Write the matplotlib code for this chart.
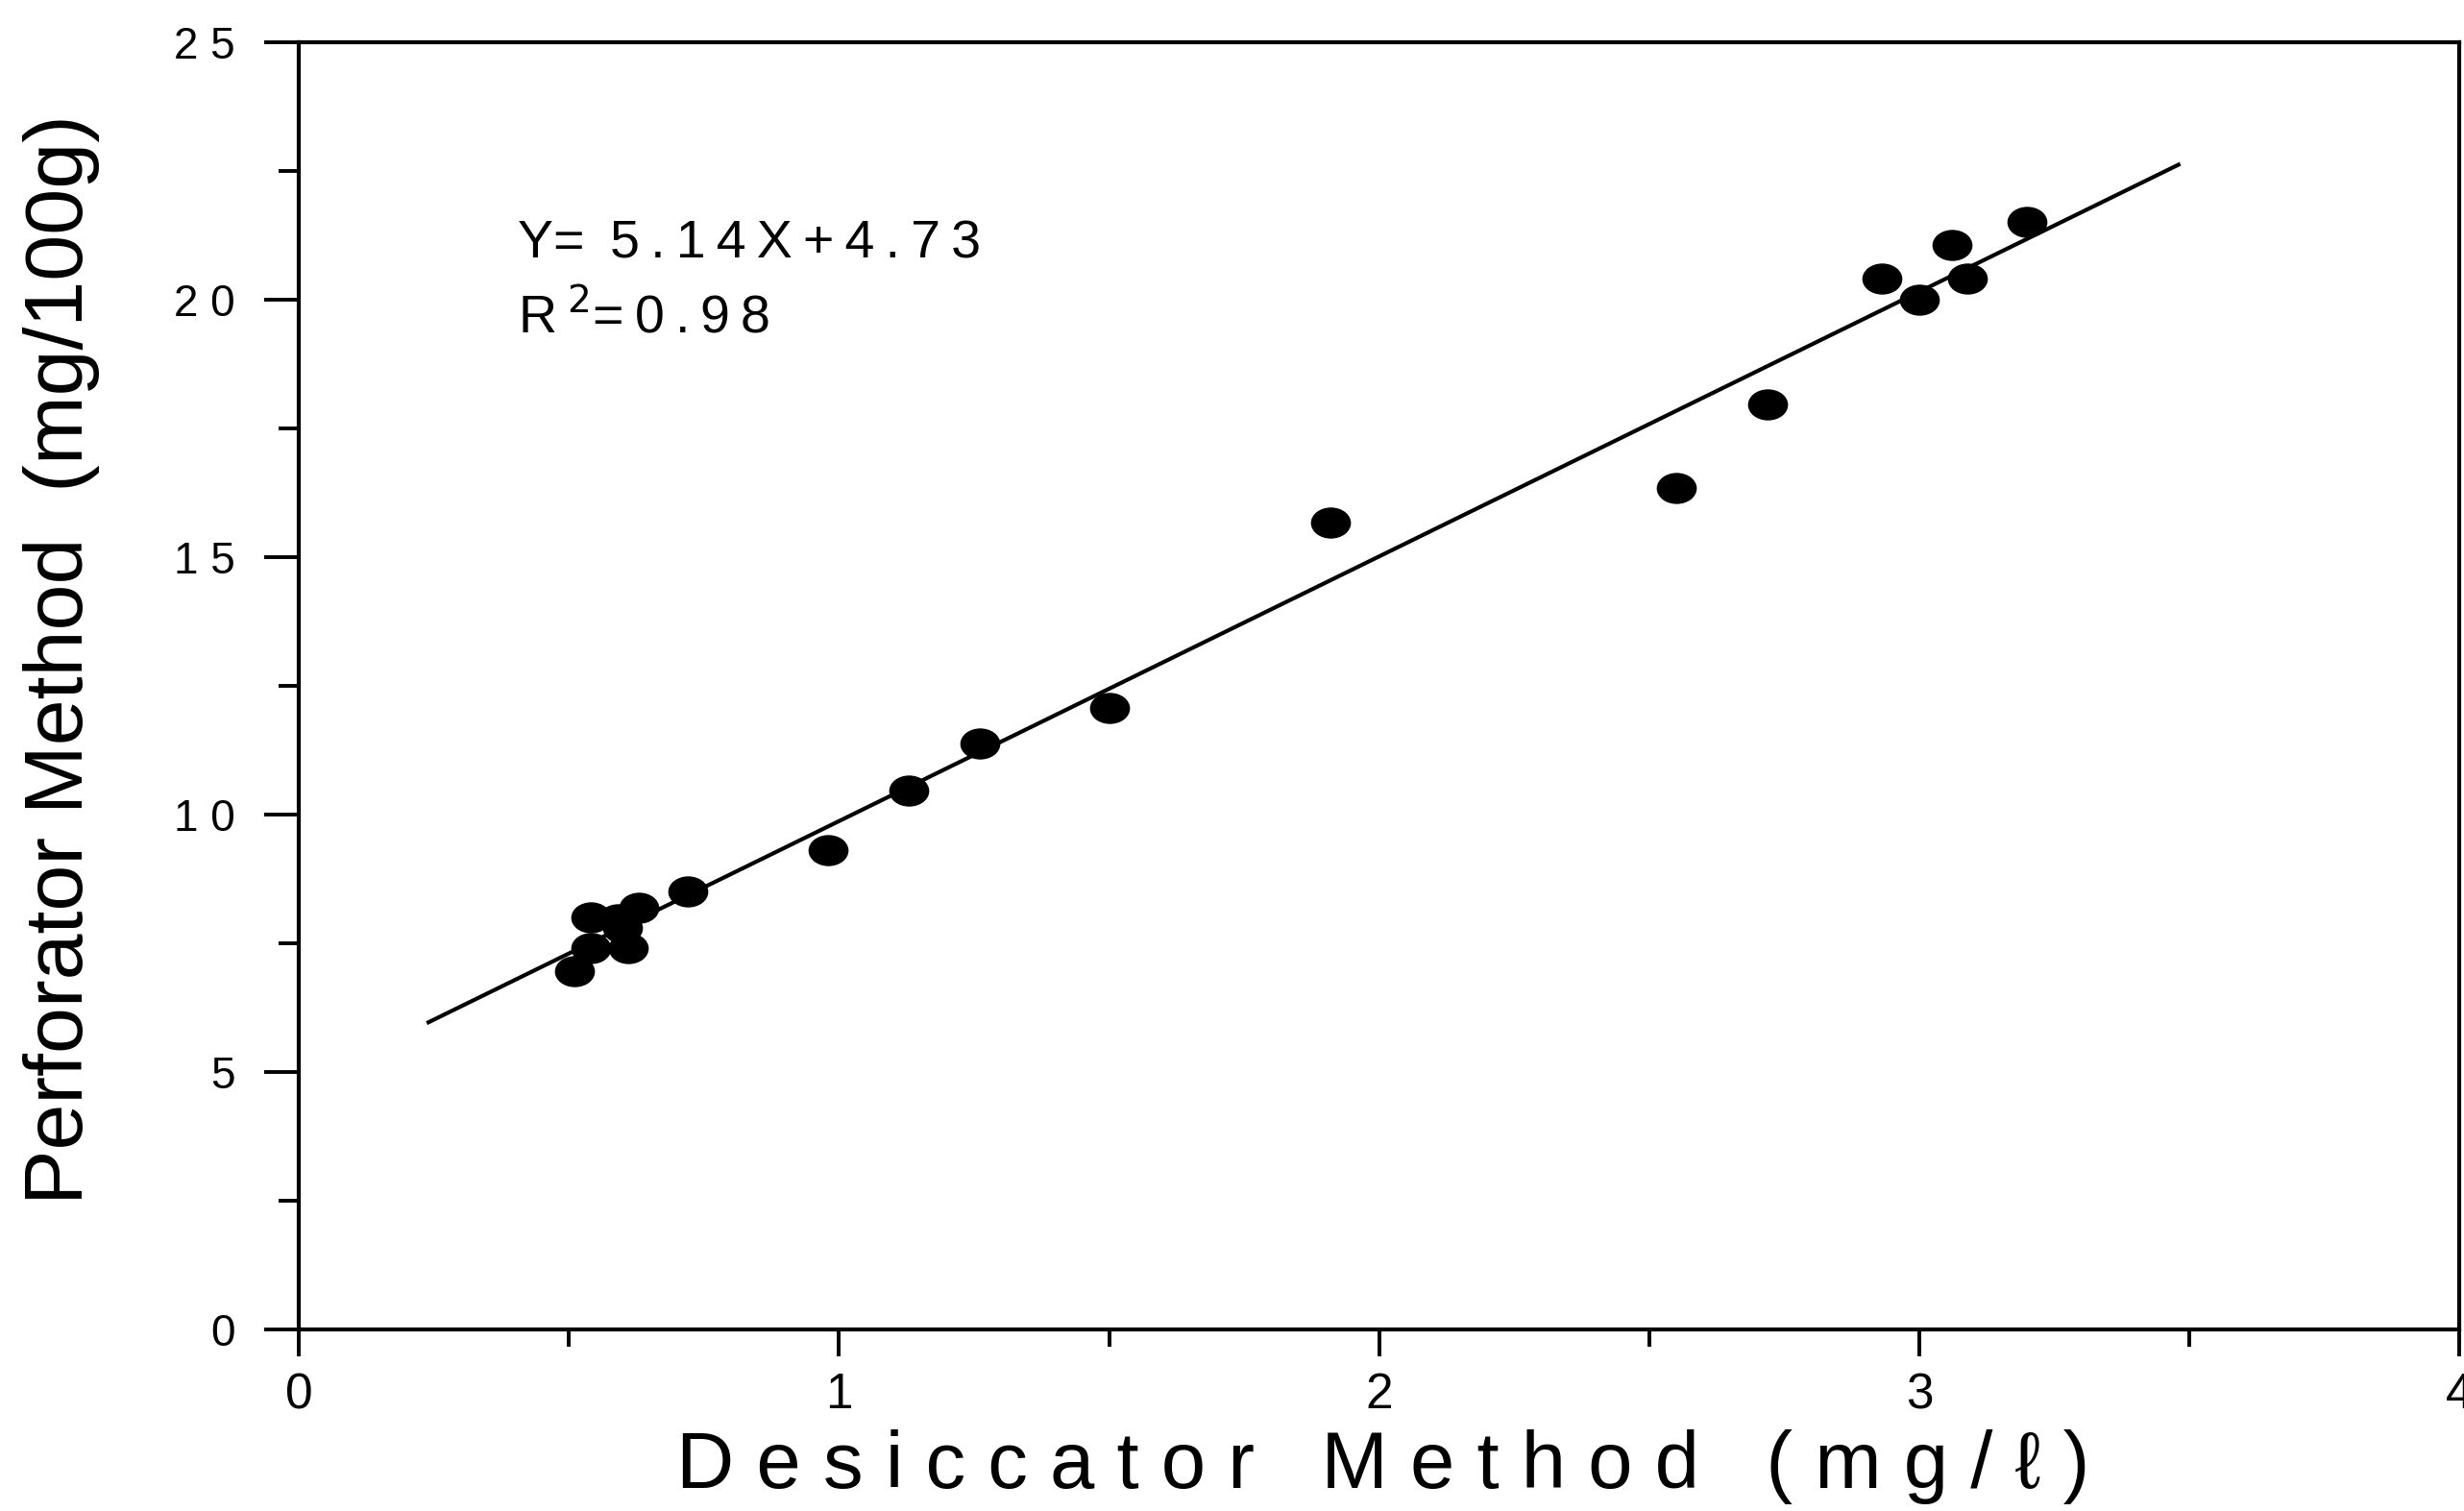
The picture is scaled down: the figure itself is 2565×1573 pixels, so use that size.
import matplotlib
matplotlib.use('Agg')
import matplotlib.pyplot as plt
import numpy as np
from matplotlib import font_manager
from matplotlib.path import Path
from matplotlib.transforms import Affine2D
from matplotlib.ticker import MultipleLocator, FuncFormatter

# data
desiccator = [0.51, 0.54, 0.54, 0.59, 0.60, 0.61, 0.63, 0.72, 0.98, 1.13, 1.26,
              1.50, 1.91, 2.55, 2.72, 2.93, 3.00, 3.06, 3.09, 3.20]
perforator = [6.95, 7.40, 8.00, 7.97, 7.80, 7.40, 8.18, 8.51, 9.31, 10.47, 11.37,
              12.07, 15.67, 16.34, 17.97, 20.40, 20.00, 21.05, 20.40, 21.50]
slope = 5.14
intercept = 4.73
r_squared = 0.98
fit_range = [0.24, 3.48]

names = {f.name for f in font_manager.fontManager.ttflist}
main_font = ['Liberation Sans', 'DejaVu Sans']
narrow_font = ['Liberation Sans Narrow', 'DejaVu Sans'] if 'Liberation Sans Narrow' in names else main_font

plt.rcParams['font.family'] = main_font

fig = plt.figure(figsize=(25.65, 15.73), dpi=100)
ax = fig.add_axes([0.1213, 0.1202, 0.8768, 0.852])

# slightly wide ellipse marker
ell = Path.unit_circle().transformed(Affine2D().scale(1.3, 1.0))
ax.plot(desiccator, perforator, linestyle='none', marker=ell, markersize=29,
        color='black', zorder=3)

xf = np.array(fit_range)
ax.plot(xf, slope * xf + intercept, color='black', linewidth=3.0, zorder=2)

ax.set_xlim(0, 4)
ax.set_ylim(0, 25)

for sp in ax.spines.values():
    sp.set_linewidth(3.0)

ax.xaxis.set_major_locator(MultipleLocator(1))
ax.xaxis.set_minor_locator(MultipleLocator(0.5))
ax.yaxis.set_major_locator(MultipleLocator(5))
ax.yaxis.set_minor_locator(MultipleLocator(2.5))

ax.yaxis.set_major_formatter(FuncFormatter(lambda v, p: ' '.join(str(int(round(v))))))
ax.xaxis.set_major_formatter(FuncFormatter(lambda v, p: str(int(round(v)))))

ax.tick_params(axis='y', which='major', direction='out', length=26, width=2.8, pad=22, labelsize=33)
ax.tick_params(axis='y', which='minor', direction='out', length=15, width=2.8)
ax.tick_params(axis='x', which='major', direction='out', length=20, width=2.8, pad=12, labelsize=37)
ax.tick_params(axis='x', which='minor', direction='out', length=13, width=2.8)
for lab in ax.get_xticklabels():
    lab.set_family(narrow_font)

ax.set_ylabel('Perforator Method  (mg/100g)', fontsize=62)
ax.yaxis.set_label_coords(-0.092, 0.52)

xlab = 'D e s i c c a t o r   M e t h o d   ( m g / \u2113 )'
ax.set_xlabel(xlab, fontsize=60, family=narrow_font)
ax.xaxis.set_label_coords(0.502, -0.078)
ax.xaxis.label.set_va('top')

ax.text(0.405, 20.8, 'Y=\u2009 5\u2009.\u20091\u20094\u2009X\u2009+\u20094\u2009.\u20097\u20093',
        fontsize=40, ha='left', va='baseline')
ax.text(0.405, 19.35, 'R\u2009$^{2}$=\u20090\u2009.\u20099\u20098',
        fontsize=40, ha='left', va='baseline')

plt.savefig('out.png', dpi=100)
